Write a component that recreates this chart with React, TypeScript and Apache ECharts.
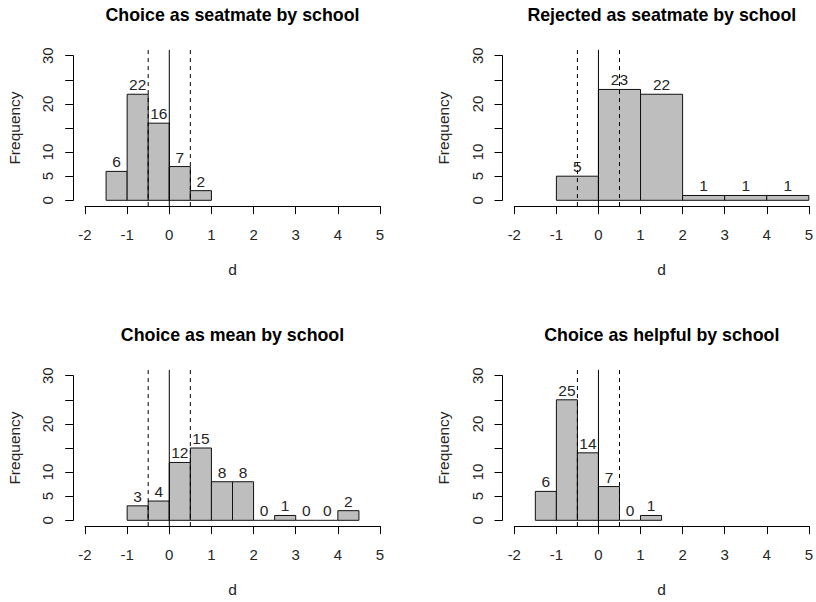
import React, { useEffect, useRef } from "react";
import * as echarts from "echarts";

// ---- data ----
const titles = [
  "Choice as seatmate by school",
  "Rejected as seatmate by school",
  "Choice as mean by school",
  "Choice as helpful by school",
];
const breaks1 = [-1.5, -1, -0.5, 0, 0.5, 1];
const counts1 = [6, 22, 16, 7, 2];
const breaks2 = [-1, 0, 1, 2, 3, 4, 5];
const counts2 = [5, 23, 22, 1, 1, 1];
const breaks3 = [-1, -0.5, 0, 0.5, 1, 1.5, 2, 2.5, 3, 3.5, 4, 4.5];
const counts3 = [3, 4, 12, 15, 8, 8, 0, 1, 0, 0, 2];
const breaks4 = [-1.5, -1, -0.5, 0, 0.5, 1, 1.5];
const counts4 = [6, 25, 14, 7, 0, 1];
const solidLines = [0];
const dashedLines = [-0.5, 0.5];
const xTicks = [-2, -1, 0, 1, 2, 3, 4, 5];
const yTicks = [0, 5, 10, 15, 20, 25, 30];
const yTickLabelsShown = [0, 5, 10, 20, 30];
const xName = "d";
const yName = "Frequency";

const panels = [
  { breaks: breaks1, counts: counts1 },
  { breaks: breaks2, counts: counts2 },
  { breaks: breaks3, counts: counts3 },
  { breaks: breaks4, counts: counts4 },
];

// ---- layout ----
const W = 816;
const H = 602;
const gridLefts = [85, 514.3];
const gridTops = [55.7, 375.7];
const gridW = 295;
const gridH = 144.6;
const FONT = "'Liberation Sans', Arial, Helvetica, sans-serif";
const TXT = "#262626";

export default function App() {
  const ref = useRef<HTMLDivElement>(null);

  useEffect(() => {
    if (!ref.current) return;
    const chart = echarts.init(ref.current, undefined, { renderer: "svg" });

    const xMin = xTicks[0];
    const xMax = xTicks[xTicks.length - 1];
    const yMin = yTicks[0];
    const yMax = yTicks[yTicks.length - 1];
    const yExt = (yMax - yMin) * 0.04;
    const xExt = (xMax - xMin) * 0.04;
    const pxPerX = gridW / (xMax - xMin);
    const pxPerY = gridH / (yMax - yMin);

    const grids: any[] = [];
    const xAxes: any[] = [];
    const yAxes: any[] = [];
    const series: any[] = [];
    const graphics: any[] = [];

    panels.forEach((p, i) => {
      const col = i % 2;
      const row = Math.floor(i / 2);
      const left = gridLefts[col];
      const top = gridTops[row];
      grids.push({ left, top, width: gridW, height: gridH, containLabel: false });

      xAxes.push({
        gridIndex: i,
        type: "value",
        position: "bottom",
        min: xMin,
        max: xMax,
        interval: 1,
        offset: yExt * pxPerY,
        axisLine: { show: true, onZero: false, lineStyle: { color: "#000", width: 1 } },
        axisTick: { show: true, length: 8, lineStyle: { color: "#000", width: 1 } },
        axisLabel: { color: TXT, fontSize: 15, fontFamily: FONT, margin: 21 },
        splitLine: { show: false },
        name: xName,
        nameLocation: "middle",
        nameGap: 55,
        nameTextStyle: { color: TXT, fontSize: 15.5, fontFamily: FONT, verticalAlign: "top" },
      });
      yAxes.push({
        gridIndex: i,
        type: "value",
        position: "left",
        min: yMin,
        max: yMax,
        interval: 5,
        offset: xExt * pxPerX,
        axisLine: { show: true, onZero: false, lineStyle: { color: "#000", width: 1 } },
        axisTick: { show: true, length: 8, lineStyle: { color: "#000", width: 1 } },
        axisLabel: {
          color: TXT,
          fontSize: 15,
          fontFamily: FONT,
          rotate: 90,
          margin: 18,
          formatter: (v: number) => (yTickLabelsShown.indexOf(v) >= 0 ? String(v) : ""),
        },
        splitLine: { show: false },
        name: yName,
        nameLocation: "middle",
        nameGap: 51,
        nameRotate: 90,
        nameTextStyle: { color: TXT, fontSize: 15.5, fontFamily: FONT },
      });

      const data = p.counts.map((c, k) => [p.breaks[k], p.breaks[k + 1], c]);
      series.push({
        type: "custom",
        xAxisIndex: i,
        yAxisIndex: i,
        clip: false,
        z: 2,
        data,
        renderItem: (params: any, api: any) => {
          const x0 = api.value(0);
          const x1 = api.value(1);
          const n = api.value(2);
          const pBL = api.coord([x0, 0]);
          const pTR = api.coord([x1, n]);
          const children: any[] = [];
          if (n > 0) {
            children.push({
              type: "rect",
              shape: { x: pBL[0], y: pTR[1], width: pTR[0] - pBL[0], height: pBL[1] - pTR[1] },
              style: { fill: "#bebebe", stroke: "#111", lineWidth: 1 },
            });
          } else {
            children.push({
              type: "line",
              shape: { x1: pBL[0], y1: pBL[1], x2: pTR[0], y2: pBL[1] },
              style: { stroke: "#111", lineWidth: 1 },
            });
          }
          children.push({
            type: "text",
            x: (pBL[0] + pTR[0]) / 2,
            y: pTR[1] - 9.5,
            style: {
              text: String(n),
              fill: TXT,
              font: `15.5px ${FONT}`,
              align: "center",
              verticalAlign: "middle",
              textAlign: "center",
              textVerticalAlign: "middle",
            },
          });
          return { type: "group", children };
        },
      });

      const addLine = (v: number, dashed: boolean) => {
        series.push({
          type: "line",
          xAxisIndex: i,
          yAxisIndex: i,
          clip: false,
          silent: true,
          symbol: "none",
          z: 5,
          data: [
            [v, yMin - yExt],
            [v, yMax + yExt],
          ],
          lineStyle: { color: "#000", width: 1, type: dashed ? [4, 4] : "solid" },
        });
      };
      solidLines.forEach((v) => addLine(v, false));
      dashedLines.forEach((v) => addLine(v, true));

      graphics.push({
        type: "text",
        x: left + gridW / 2,
        y: top - 40.5,
        style: {
          text: titles[i],
          fill: "#000",
          font: `bold 17.8px ${FONT}`,
          align: "center",
          verticalAlign: "middle",
          textAlign: "center",
          textVerticalAlign: "middle",
        },
      });
    });

    chart.setOption({
      animation: false,
      backgroundColor: "#fff",
      grid: grids,
      xAxis: xAxes,
      yAxis: yAxes,
      series,
      graphic: graphics,
    });

    return () => chart.dispose();
  }, []);

  return (
    <div
      ref={ref}
      style={{ position: "fixed", left: 0, top: 0, width: W, height: H, background: "#fff" }}
    />
  );
}
